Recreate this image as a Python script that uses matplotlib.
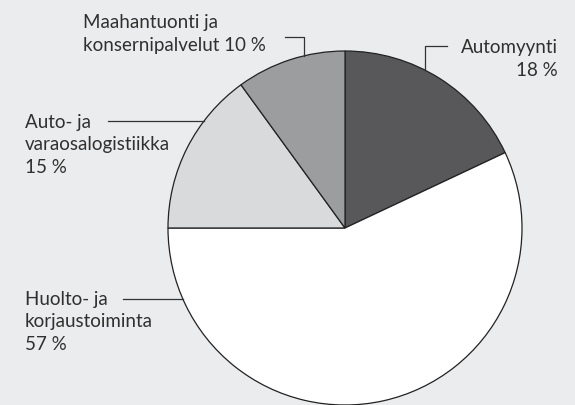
import matplotlib.pyplot as plt
import numpy as np

labels = ["Automyynti\n18 %", "Huolto- ja\nkorjaustoiminta\n57 %",
          "Auto- ja\nvaraosalogistiikka\n15 %", "Maahantuonti ja\nkonsernipalvelut 10 %"]
shares = [18, 57, 15, 10]
colors = ["#58585a", "#ffffff", "#d9dadb", "#9c9d9f"]

W, H = 575, 406
fig = plt.figure(figsize=(W / 100, H / 100), dpi=100)
fig.patch.set_facecolor("#ebeced")
ax = fig.add_axes([0, 0, 1, 1])

cx, cy, r = 345, H - 229, 177
ax.pie(shares, colors=colors, startangle=90, counterclock=False,
       center=(cx, cy), radius=r, frame=True,
       wedgeprops=dict(edgecolor="#222222", linewidth=0.9))
ax.set_xlim(0, W)
ax.set_ylim(0, H)
ax.axis("off")

txt = dict(family="Lato", weight="normal", fontsize=13.5, color="#303030")
lc = dict(color="#333333", lw=0.9)
step = 22.5

def put(label, x, base, ha="left"):
    # one text per line so baselines sit where the reference has them
    for i, line in enumerate(label.split("\n")):
        ax.text(x, H - (base + i * step), line, ha=ha, va="baseline", **txt)

def edge_x(y, side):
    return cx + side * np.sqrt(r ** 2 - (y - cy) ** 2)

def edge_y(x):
    return cy + np.sqrt(r ** 2 - (x - cx) ** 2)

# Automyynti
put(labels[0], 558, 53, ha="right")
y0 = H - 47
ax.plot([447, 425, 425], [y0, y0, edge_y(425)], **lc)

# Huolto- ja korjaustoiminta
put(labels[1], 25, 305)
y0 = H - 300
ax.plot([123, edge_x(y0, -1)], [y0, y0], **lc)

# Auto- ja varaosalogistiikka
put(labels[2], 25, 128)
y0 = H - 122
ax.plot([108, edge_x(y0, -1)], [y0, y0], **lc)

# Maahantuonti
put(labels[3], 83, 28)
y0 = H - 38
ax.plot([285, 304, 304], [y0, y0, edge_y(304)], **lc)

fig.savefig("out.png", dpi=100, facecolor=fig.get_facecolor())
